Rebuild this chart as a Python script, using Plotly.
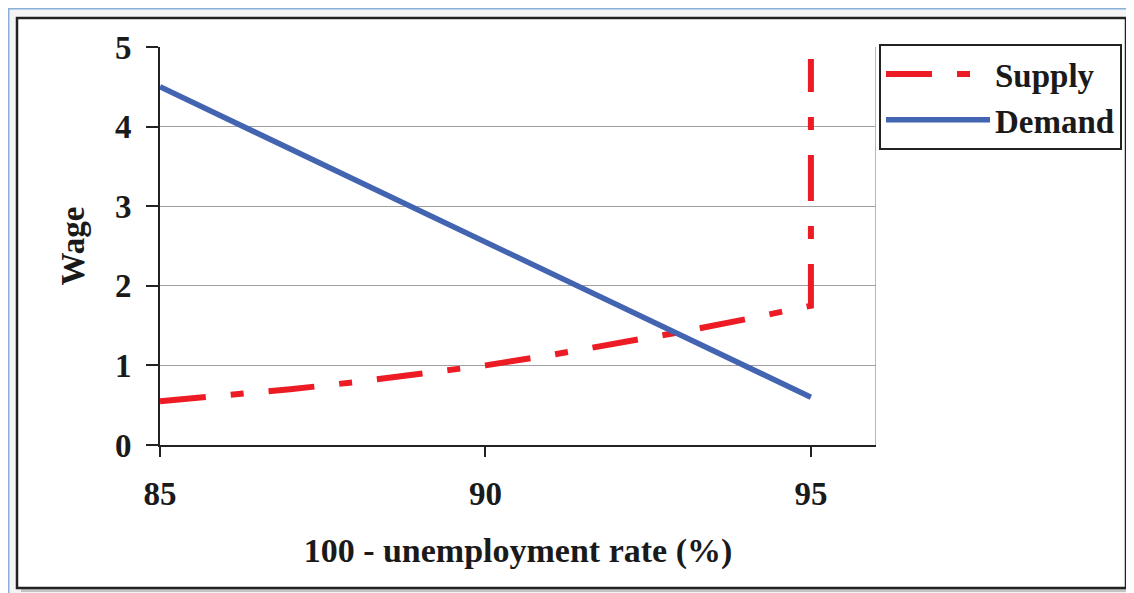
import plotly.graph_objects as go

# Data
supply_x = [85, 86, 87, 88, 89, 90, 91, 92, 93, 94, 95, 95]
supply_y = [0.55, 0.62, 0.70, 0.79, 0.89, 1.00, 1.13, 1.27, 1.42, 1.58, 1.75, 4.85]
demand_x = [85, 95]
demand_y = [4.5, 0.6]
x_ticks = [85, 90, 95]
y_ticks = [0, 1, 2, 3, 4, 5]

FONT = "Liberation Serif"
RED = "#ED1C24"
BLUE = "#4364B0"

fig = go.Figure()
fig.add_trace(go.Scatter(x=supply_x, y=supply_y, mode="lines", name="Supply",
                         line=dict(color=RED, width=6, dash="46px,25px,13px,25px")))
fig.add_trace(go.Scatter(x=demand_x, y=demand_y, mode="lines", name="Demand",
                         line=dict(color=BLUE, width=5.5)))

OFF = 8  # browser body margin
W, H = 1134 - OFF, 593 - OFF
L, R, T, B = 160 - OFF, 876 - OFF, 47 - OFF, 445 - OFF
pw, ph = R - L, B - T

def px(x):
    return (x - OFF - L) / pw

def py(y):
    return (B - (y - OFF)) / ph

shapes = [
    # light blue outer frame
    dict(type="rect", xref="paper", yref="paper", x0=px(8.7), x1=px(1150), y0=py(8.7), y1=py(610),
         line=dict(color="#8AAED8", width=1.5), fillcolor="rgba(0,0,0,0)", layer="below"),
    # shadow
    dict(type="rect", xref="paper", yref="paper", x0=px(21), x1=px(1130), y0=py(22), y1=py(592),
         line=dict(width=0), fillcolor="#C4C4C4", layer="below"),
    # black frame
    dict(type="rect", xref="paper", yref="paper", x0=px(17), x1=px(1126), y0=py(18), y1=py(588),
         line=dict(color="#222222", width=2.5), fillcolor="white", layer="below"),
    # right border of plot area
    dict(type="line", xref="x", yref="y", x0=96, x1=96, y0=0, y1=5,
         line=dict(color="#A0A0A0", width=1.5), layer="below"),
]

fig.update_layout(
    width=W, height=H,
    margin=dict(l=L, r=W - R, t=T, b=H - B),
    paper_bgcolor="#F4F4F4", plot_bgcolor="white",
    font=dict(family=FONT, size=33, color="#1A1A1A", weight="bold"),
    shapes=shapes,
    showlegend=True,
    legend=dict(x=px(879), y=py(44), xanchor="left", yanchor="top",
                bgcolor="white", bordercolor="#222222", borderwidth=2,
                itemwidth=104, tracegroupgap=0,
                font=dict(family=FONT, size=33, weight="bold", color="#1A1A1A")),
    xaxis=dict(range=[85, 96], tickvals=x_ticks, ticks="outside", ticklen=10, tickwidth=2,
               tickcolor="#222222", showline=True, linecolor="#222222", linewidth=2,
               showgrid=False, zeroline=False, ticklabelstandoff=8,
               tickfont=dict(family=FONT, size=33, weight="bold"),
               title=dict(text="100 - unemployment rate (%)", standoff=28,
                          font=dict(family=FONT, size=34, weight="bold"))),
    yaxis=dict(range=[0, 5], tickvals=y_ticks, ticks="outside", ticklen=12, tickwidth=2,
               tickcolor="#222222", showline=True, linecolor="#222222", linewidth=2,
               showgrid=True, gridcolor="#A0A0A0", gridwidth=1.2, zeroline=False,
               ticklabelstandoff=8,
               tickfont=dict(family=FONT, size=33, weight="bold"),
               title=dict(text="Wage", standoff=20,
                          font=dict(family=FONT, size=33, weight="bold"))),
)

fig.write_html("out.html")
